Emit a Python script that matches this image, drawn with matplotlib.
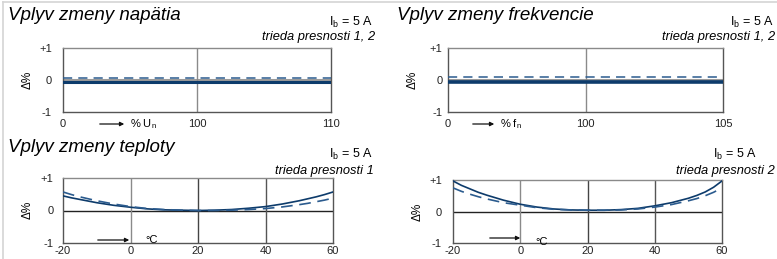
import matplotlib
matplotlib.use("Agg")
import matplotlib.pyplot as plt
from matplotlib.lines import Line2D
from matplotlib.patches import FancyArrowPatch

plt.rcParams["font.family"] = ["Liberation Sans", "DejaVu Sans"]
plt.rcParams["mathtext.fontset"] = "custom"
plt.rcParams["mathtext.rm"] = "Liberation Sans"
plt.rcParams["mathtext.it"] = "Liberation Sans:italic"
plt.rcParams["axes.unicode_minus"] = False

# --- data ---------------------------------------------------------------
# voltage / frequency panels: three points (0, 100, 110 / 0, 100, 105)
volt_labels = ["0", "100", "110"]
freq_labels = ["0", "100", "105"]
volt_solid = [-0.05, -0.05, -0.05]
volt_dashed = [0.07, 0.07, 0.07]
freq_solid = [-0.05, -0.05, -0.05]
freq_dashed = [0.08, 0.08, 0.08]

# temperature panels
temps = [-20, -17.5, -15, -12.5, -10, -5, 0, 5, 10, 15, 20, 25, 30, 35, 40, 45, 50, 52.5, 55, 57.5, 60]
t1_solid = [0.45, 0.39, 0.34, 0.29, 0.24, 0.16, 0.10, 0.05, 0.02, 0.01, 0.0, 0.01, 0.03, 0.07, 0.12, 0.20, 0.30, 0.36, 0.42, 0.49, 0.57]
t1_dashed = [0.57, 0.49, 0.42, 0.36, 0.30, 0.20, 0.12, 0.06, 0.03, 0.01, 0.0, 0.0, 0.01, 0.03, 0.06, 0.11, 0.18, 0.22, 0.27, 0.32, 0.38]
t2_solid = [0.97, 0.83, 0.72, 0.61, 0.52, 0.36, 0.23, 0.14, 0.08, 0.05, 0.04, 0.04, 0.06, 0.10, 0.18, 0.28, 0.42, 0.51, 0.62, 0.77, 0.97]
t2_dashed = [0.75, 0.64, 0.55, 0.47, 0.40, 0.28, 0.20, 0.12, 0.07, 0.05, 0.04, 0.04, 0.05, 0.08, 0.14, 0.22, 0.34, 0.41, 0.50, 0.61, 0.75]
temp_ticks = [-20, 0, 20, 40, 60]

NAVY = "#0d3b6b"
DASH = "#2b5b8e"
GRID = "#8a8a8a"
FRAME = "#555555"

W, H = 777, 259
fig = plt.figure(figsize=(W / 100, H / 100), dpi=100)


def px_axes(l, t, r, b):
    return fig.add_axes([l / W, 1 - b / H, (r - l) / W, (b - t) / H])


def fx(x):
    return x / W


def fy(y):
    return 1 - y / H


def style(ax, ypad):
    ax.set_ylim(-1, 1)
    ax.set_yticks([-1, 0, 1])
    ax.set_yticklabels(["-1", "0", "+1"])
    ax.tick_params(length=0, labelsize=8, colors="#222222")
    ax.tick_params(axis="y", pad=ypad)
    ax.tick_params(axis="x", pad=5)
    for s in ax.spines.values():
        s.set_color(FRAME)
        s.set_linewidth(1.0)
    ax.spines["top"].set_color(GRID)


# ----- panel 1: voltage
ax1 = px_axes(63, 48, 331, 112)
xs = range(len(volt_labels))
ax1.axhline(0, color="#9a9a9a", lw=2.2, zorder=1)
ax1.axvline(1, color=GRID, lw=1.0, zorder=1)
ax1.plot(xs, volt_solid, color=NAVY, lw=2.2, zorder=3)
ax1.plot(xs, volt_dashed, color=DASH, lw=1.1, ls=(0, (6, 4)), zorder=3)
ax1.set_xlim(0, 2)
ax1.set_xticks(list(xs))
ax1.set_xticklabels(volt_labels)
style(ax1, 8)

# ----- panel 2: frequency
ax2 = px_axes(448, 48, 723, 112)
xs = range(len(freq_labels))
ax2.axhline(0, color="#9a9a9a", lw=2.2, zorder=1)
ax2.axvline(1, color=GRID, lw=1.0, zorder=1)
ax2.plot(xs, freq_solid, color=NAVY, lw=2.6, zorder=3)
ax2.plot(xs, freq_dashed, color=DASH, lw=1.1, ls=(0, (6, 4)), zorder=3)
ax2.set_xlim(0, 2)
ax2.set_xticks(list(xs))
ax2.set_xticklabels(freq_labels)
style(ax2, 4)

# ----- panels 3/4: temperature
for (l, t, r, b), solid, dashed, ypad in [((63, 178, 333, 243), t1_solid, t1_dashed, 7),
                                           ((453, 180, 722, 243), t2_solid, t2_dashed, 8)]:
    ax = px_axes(l, t, r, b)
    ax.axhline(0, color="#222222", lw=1.0, zorder=1)
    ax.axvline(0, color=GRID, lw=1.0, zorder=1)
    ax.axvline(20, color="#444444", lw=1.0, zorder=1)
    ax.axvline(40, color="#555555", lw=1.0, zorder=1)
    ax.plot(temps, solid, color=NAVY, lw=1.2, zorder=3)
    ax.plot(temps, dashed, color=DASH, lw=1.2, ls=(0, (7, 4)), zorder=3)
    ax.set_xlim(-20, 60)
    ax.set_xticks(temp_ticks)
    style(ax, ypad)
    ax.tick_params(axis="x", pad=2)

# ----- texts
tkw = dict(fontsize=13.5, style="italic", ha="left", va="center")
fig.text(fx(8), fy(15), "Vplyv zmeny napätia", **tkw)
fig.text(fx(397), fy(15), "Vplyv zmeny frekvencie", **tkw)
fig.text(fx(8), fy(148), "Vplyv zmeny teploty", **tkw)

ikw = dict(fontsize=9, ha="right", va="center")
fig.text(fx(373), fy(22), r"I$_\mathrm{b}$ = 5 A", **ikw)
fig.text(fx(774), fy(22), r"I$_\mathrm{b}$ = 5 A", **ikw)
fig.text(fx(373), fy(154), r"I$_\mathrm{b}$ = 5 A", **ikw)
fig.text(fx(757), fy(154), r"I$_\mathrm{b}$ = 5 A", **ikw)

ckw = dict(fontsize=9.3, style="italic", ha="right", va="center")
fig.text(fx(375), fy(37), "trieda presnosti 1, 2", **ckw)
fig.text(fx(775), fy(37), "trieda presnosti 1, 2", **ckw)
fig.text(fx(374), fy(171), "trieda presnosti 1", **ckw)
fig.text(fx(775), fy(171), "trieda presnosti 2", **ckw)

# y-axis labels
for x, y in [(28, 80), (413, 80), (28, 210), (418, 212)]:
    fig.text(fx(x), fy(y), "Δ%", rotation=90, fontsize=8.5, ha="center", va="center")

# arrows + units
akw = dict(arrowstyle="-|>", color="#111111", lw=0.9, mutation_scale=6)
for (x0, x1, y, lab, lx, ly) in [(97, 127, 124, r"% U$_\mathrm{n}$", 130, 124),
                                  (470, 497, 124, r"% f$_\mathrm{n}$", 500, 124),
                                  (95, 132, 240, "°C", 145, 240),
                                  (487, 523, 238, "°C", 535, 242)]:
    fig.add_artist(FancyArrowPatch((fx(x0), fy(y)), (fx(x1), fy(y)),
                                   transform=fig.transFigure, **akw))
    fig.text(fx(lx), fy(ly), lab, fontsize=8, ha="left", va="center")

# light outer frame
fig.add_artist(Line2D([fx(3), fx(3)], [0, fy(2)], color="#d4d4d4", lw=1.2, transform=fig.transFigure))
fig.add_artist(Line2D([fx(3), 1], [fy(2), fy(2)], color="#d4d4d4", lw=1.2, transform=fig.transFigure))

fig.savefig("out.png", dpi=100)
